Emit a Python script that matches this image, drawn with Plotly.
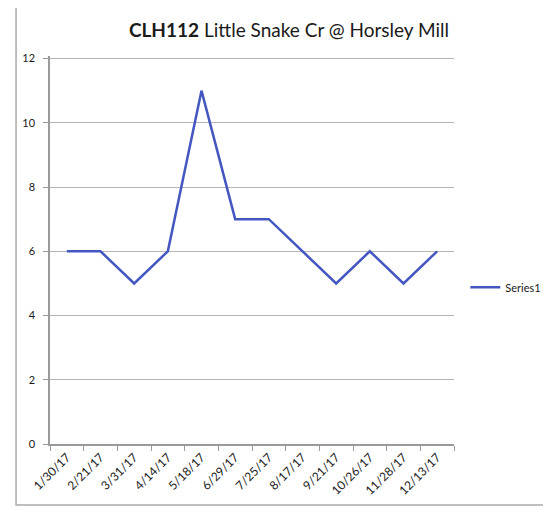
import plotly.graph_objects as go

dates = ["1/30/17", "2/21/17", "3/31/17", "4/14/17", "5/18/17", "6/29/17",
         "7/25/17", "8/17/17", "9/21/17", "10/26/17", "11/28/17", "12/13/17"]
values = [6, 6, 5, 6, 11, 7, 7, 6, 5, 6, 5, 6]
y_ticks = [0, 2, 4, 6, 8, 10, 12]

font = "Lato, Open Sans, sans-serif"

fig = go.Figure()
fig.add_trace(go.Scatter(
    x=dates, y=values, mode="lines", name="Series1",
    line=dict(color="#4457c0", width=2.5),
))

fig.update_layout(
    width=551, height=524,
    margin=dict(l=42, r=105, t=48, b=88),
    paper_bgcolor="white", plot_bgcolor="white",
    font=dict(family=font, color="#1a1a1a"),
    title=dict(
        text="<b>CLH112</b> Little Snake Cr @ Horsley Mill",
        x=0.51, xanchor="center", y=0.958, yanchor="middle",
        font=dict(size=19, family=font, color="#1a1a1a"),
    ),
    showlegend=True,
    legend=dict(x=1.028, y=0.404, xanchor="left", yanchor="middle",
                font=dict(size=11, family=font, color="#1a1a1a"),
                bgcolor="rgba(0,0,0,0)"),
    xaxis=dict(
        type="category", range=[-0.5, 11.5],
        tickangle=-45, tickfont=dict(size=12, family=font, color="#1a1a1a"),
        showgrid=False, showline=True, linecolor="#9a9a9a", linewidth=1.5,
        ticks="outside", ticklen=5, tickcolor="#9a9a9a", tickson="boundaries",
    ),
    yaxis=dict(
        range=[0, 12.08], tickvals=y_ticks,
        tickfont=dict(size=11, family=font, color="#1a1a1a"),
        ticklabelstandoff=6,
        showgrid=True, gridcolor="#b5b5b5", gridwidth=1,
        showline=True, linecolor="#9a9a9a", linewidth=1.5,
        ticks="outside", ticklen=5, tickcolor="#9a9a9a",
        zeroline=False,
    ),
    shapes=[dict(type="rect", xref="paper", yref="paper",
                 x0=-0.084, x1=1.3, y0=-0.157, y1=1.16,
                 line=dict(color="#aaaaaa", width=1.5))],
)

fig.write_html("out.html")
